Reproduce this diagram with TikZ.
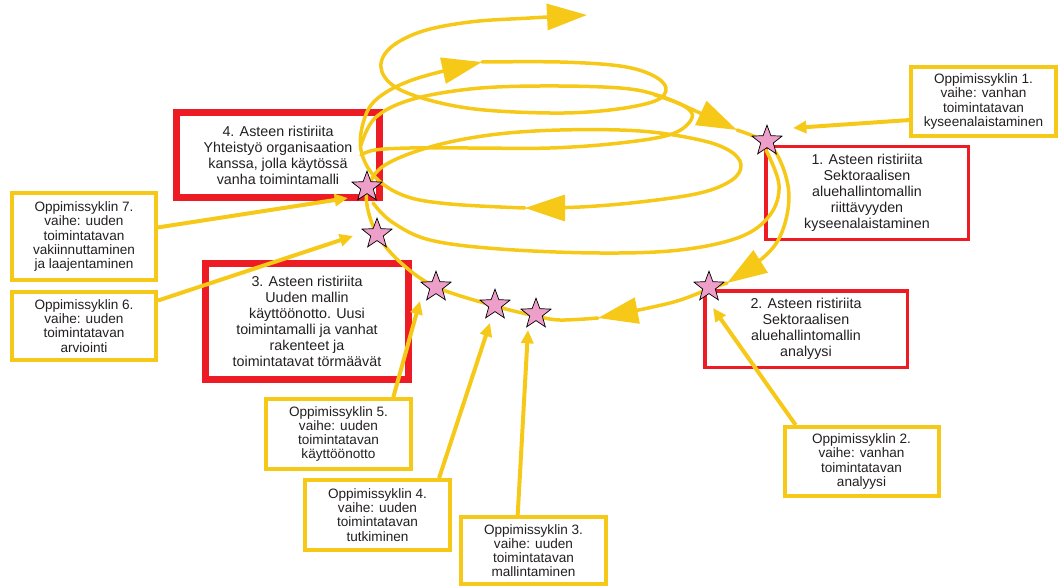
\documentclass[tikz,border=0pt]{standalone}
\usepackage{fontspec}
\setmainfont{Liberation Sans}
\usetikzlibrary{arrows.meta,shapes.geometric}
\definecolor{textcolor}{HTML}{231F20}
\definecolor{cycleyellow}{HTML}{F6C919}
\definecolor{conflictred}{HTML}{ED1C24}
\definecolor{starpink}{HTML}{EE9FC9}
\tikzset{
  conflict/.style={
    draw=conflictred,
    align=center,
    inner sep=0pt,
    text=textcolor,
    font=\fontsize{12.2}{13.7}\selectfont
  },
  thickconflict/.style={conflict, line width=0.21cm, minimum width=6.09cm},
  thinconflict/.style={conflict, line width=0.105cm, minimum width=6.075cm},
  phase/.style={draw=cycleyellow, line width=0.12cm, align=center, inner sep=0pt,
    text=textcolor, font=\fontsize{11.6}{12.1}\selectfont, minimum width=4.35cm},
  marker/.style={star, star points=5, star point ratio=2.4, minimum size=0.95cm,
    inner sep=0pt, fill=starpink, draw=black, line width=0.6pt},
  spiral/.style={draw=cycleyellow, line width=0.105cm, line cap=round},
  spiralhead/.style={spiral, -{Triangle[length=1.2cm, width=0.78cm]}},
  pointer/.style={draw=cycleyellow, line width=0.12cm, -{Triangle[length=0.4cm, width=0.36cm]}}
}

\begin{document}
\begin{tikzpicture}[x=0.03cm,y=-0.03cm]
  \useasboundingbox (0,0) rectangle (1062,587);

  % Contradictions (red boxes).
  \node[thickconflict, minimum height=2.55cm] (conf4) at (278,155)
    {4. Asteen ristiriita\\ Yhteistyö organisaation\\ kanssa, jolla käytössä\\ vanha toimintamalli};
  \node[thickconflict, minimum height=3.48cm] (conf3) at (307,321.5)
    {3. Asteen ristiriita\\ Uuden mallin\\ käyttöönotto. Uusi\\ toimintamalli ja vanhat\\ rakenteet ja\\ toimintatavat törmäävät};
  \node[thinconflict, minimum height=2.775cm] (conf1) at (867,193)
    {1. Asteen ristiriita\\ Sektoraalisen\\ aluehallintomallin\\ riittävyyden\\ kyseenalaistaminen};
  \node[thinconflict, minimum height=2.295cm] (conf2) at (806,329)
    {2. Asteen ristiriita\\ Sektoraalisen\\ aluehallintomallin\\ analyysi};

  % Learning cycle phases (yellow boxes).
  \node[phase, minimum height=2.07cm] (phase1) at (983.5,101.5)
    {Oppimissyklin 1.\\ vaihe: vanhan\\ toimintatavan\\ kyseenalaistaminen};
  \node[phase, minimum width=4.62cm, minimum height=2.07cm] (phase2) at (861.5,461.5)
    {Oppimissyklin 2.\\ vaihe: vanhan\\ toimintatavan\\ analyysi};
  \node[phase, minimum height=2.01cm] (phase3) at (533.5,550.5)
    {Oppimissyklin 3.\\ vaihe: uuden\\ toimintatavan\\ mallintaminen};
  \node[phase, minimum height=2.1cm] (phase4) at (377.5,515)
    {Oppimissyklin 4.\\ vaihe: uuden\\ toimintatavan\\ tutkiminen};
  \node[phase, minimum height=2.1cm] (phase5) at (338.5,434)
    {Oppimissyklin 5.\\ vaihe: uuden\\ toimintatavan\\ käyttöönotto};
  \node[phase, minimum width=4.32cm, minimum height=2.04cm] (phase6) at (84,326)
    {Oppimissyklin 6.\\ vaihe: uuden\\ toimintatavan\\ arviointi};
  \node[phase, minimum width=4.32cm, minimum height=2.61cm] (phase7) at (84,236.5)
    {Oppimissyklin 7.\\ vaihe: uuden\\ toimintatavan\\ vakiinnuttaminen\\ ja laajentaminen};

  % Spiral.
  \draw[spiralhead] plot[smooth, tension=0.6] coordinates
    {(361,145) (375,118) (410,100) (470,89) (540,86) (620,88) (660,96) (700,113) (737,130)};
  \draw[spiral] plot[smooth, tension=0.6] coordinates
    {(655,95) (684,106) (692,118) (672,134) (620,143) (550,148) (470,148) (410,148) (375,150) (361,155)};
  \draw[spiralhead] plot[smooth, tension=0.6] coordinates
    {(737,130) (767,143) (782,165) (789,197) (782,232) (765,256) (727,283)};
  \draw[spiralhead] plot[smooth, tension=0.6] coordinates
    {(727,283) (709,289) (670,303) (598,318)};
  \draw[spiralhead] plot[smooth, tension=0.6] coordinates
    {(598,318) (560,320) (536,316) (495,306) (436,287) (400,262) (377,234) (367,205)
     (369,185) (385,165) (430,147) (490,135) (560,130) (640,131) (700,140) (730,151)
     (741,165) (732,180) (700,193) (640,202) (580,207) (525,208)};
  \draw[spiral] plot[smooth, tension=0.6] coordinates
    {(766,150) (779,185) (770,215) (740,237) (680,250) (600,253) (500,249) (430,240) (392,222) (373,203)};
  \draw[spiralhead] plot[smooth, tension=0.6] coordinates
    {(525,208) (450,204) (405,196) (375,177) (361,150) (364,120) (378,98) (415,79) (482,62)};
  \draw[spiralhead] plot[smooth, tension=0.6] coordinates
    {(482,62) (560,62) (620,66) (652,75) (666,88) (655,101) (610,110) (550,113) (467,108)
     (405,92) (382,72) (388,50) (420,32) (470,22) (530,18) (587,15)};

  % Pointer ends.
  \coordinate (p1) at (793,128);
  \coordinate (p2) at (713,308);
  \coordinate (p3) at (528,330);
  \coordinate (p4) at (490,323);
  \coordinate (p5) at (420,301);
  \coordinate (p6) at (353,236);
  \coordinate (p7) at (348,198);

  \draw[pointer] (phase1.194) -- (p1);
  \draw[pointer] (phase2.151) -- (p2);
  \draw[pointer] (phase3.114) -- (p3);
  \draw[pointer] (phase4.31) -- (p4);
  \draw[pointer] (phase5.34) -- (p5);
  \draw[pointer] (phase6.19) -- (p6);
  \draw[pointer] (phase7.7) -- (p7);

  % Stars on the cycle.
  \node[marker] (s1) at (767,141) {};
  \node[marker] (s2) at (709,287) {};
  \node[marker] (s3) at (536,314) {};
  \node[marker] (s4) at (495,305) {};
  \node[marker] (s5) at (436,287) {};
  \node[marker] (s6) at (377,234) {};
  \node[marker] (s7) at (367,187) {};

\end{tikzpicture}
\end{document}
